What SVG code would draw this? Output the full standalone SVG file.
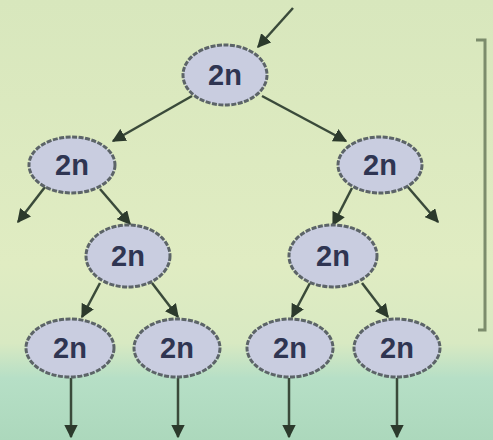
<svg xmlns="http://www.w3.org/2000/svg" width="493" height="440" viewBox="0 0 493 440">
<defs>
<linearGradient id="bg" x1="0" y1="0" x2="0" y2="1">
<stop offset="0" stop-color="#d8e7bd"/>
<stop offset="0.6" stop-color="#e0ecc2"/>
<stop offset="0.78" stop-color="#d8e9c2"/>
<stop offset="0.86" stop-color="#b6dfc6"/>
<stop offset="1" stop-color="#acd8bc"/>
</linearGradient>
<marker id="ah" viewBox="0 0 10 10" refX="9" refY="5" markerWidth="5.5" markerHeight="5.5" orient="auto">
<path d="M0,0 L10,5 L0,10 z" fill="#2c3a2c"/>
</marker>
<style>
.node ellipse{fill:#c9cde0;stroke:#5c6468;stroke-width:3;stroke-dasharray:5 1.5}
.node text{font-family:"Liberation Sans",Arial,sans-serif;font-size:29px;font-weight:bold;fill:#2f3552;text-anchor:middle;dominant-baseline:central}
#edges line{stroke:#3a4a3a;stroke-width:2.5;marker-end:url(#ah)}
</style>
</defs>
<rect width="493" height="440" fill="url(#bg)"/>
<path d="M476,40 L485,40 L485,330 L478,330" fill="none" stroke="#7c8c6c" stroke-width="3"/>
<g id="edges">
<line x1="293" y1="8" x2="258" y2="47"/>
<line x1="192" y1="96" x2="113" y2="141"/>
<line x1="262" y1="96" x2="346" y2="141"/>
<line x1="45" y1="187" x2="18" y2="222"/>
<line x1="100" y1="189" x2="130" y2="224"/>
<line x1="352" y1="188" x2="333" y2="225"/>
<line x1="407" y1="186" x2="438" y2="222"/>
<line x1="100" y1="283" x2="82" y2="317"/>
<line x1="152" y1="283" x2="178" y2="317"/>
<line x1="310" y1="283" x2="292" y2="317"/>
<line x1="362" y1="283" x2="388" y2="317"/>
<line x1="71" y1="378" x2="71" y2="437"/>
<line x1="178" y1="378" x2="178" y2="437"/>
<line x1="289" y1="378" x2="289" y2="437"/>
<line x1="397" y1="378" x2="397" y2="437"/>
</g>
<g id="n0" class="node"><ellipse cx="225" cy="75" rx="42" ry="30"/><text x="225" y="75">2n</text></g>
<g id="n1" class="node"><ellipse cx="72" cy="165" rx="43" ry="28"/><text x="72" y="165">2n</text></g>
<g id="n2" class="node"><ellipse cx="380" cy="165" rx="42" ry="28"/><text x="380" y="165">2n</text></g>
<g id="n3" class="node"><ellipse cx="128" cy="256" rx="42" ry="31"/><text x="128" y="256">2n</text></g>
<g id="n4" class="node"><ellipse cx="333" cy="256" rx="44" ry="31"/><text x="333" y="256">2n</text></g>
<g id="n5" class="node"><ellipse cx="70" cy="348" rx="44" ry="29"/><text x="70" y="348">2n</text></g>
<g id="n6" class="node"><ellipse cx="177" cy="348" rx="43" ry="29"/><text x="177" y="348">2n</text></g>
<g id="n7" class="node"><ellipse cx="290" cy="348" rx="43" ry="29"/><text x="290" y="348">2n</text></g>
<g id="n8" class="node"><ellipse cx="397" cy="348" rx="43" ry="29"/><text x="397" y="348">2n</text></g>
</svg>
